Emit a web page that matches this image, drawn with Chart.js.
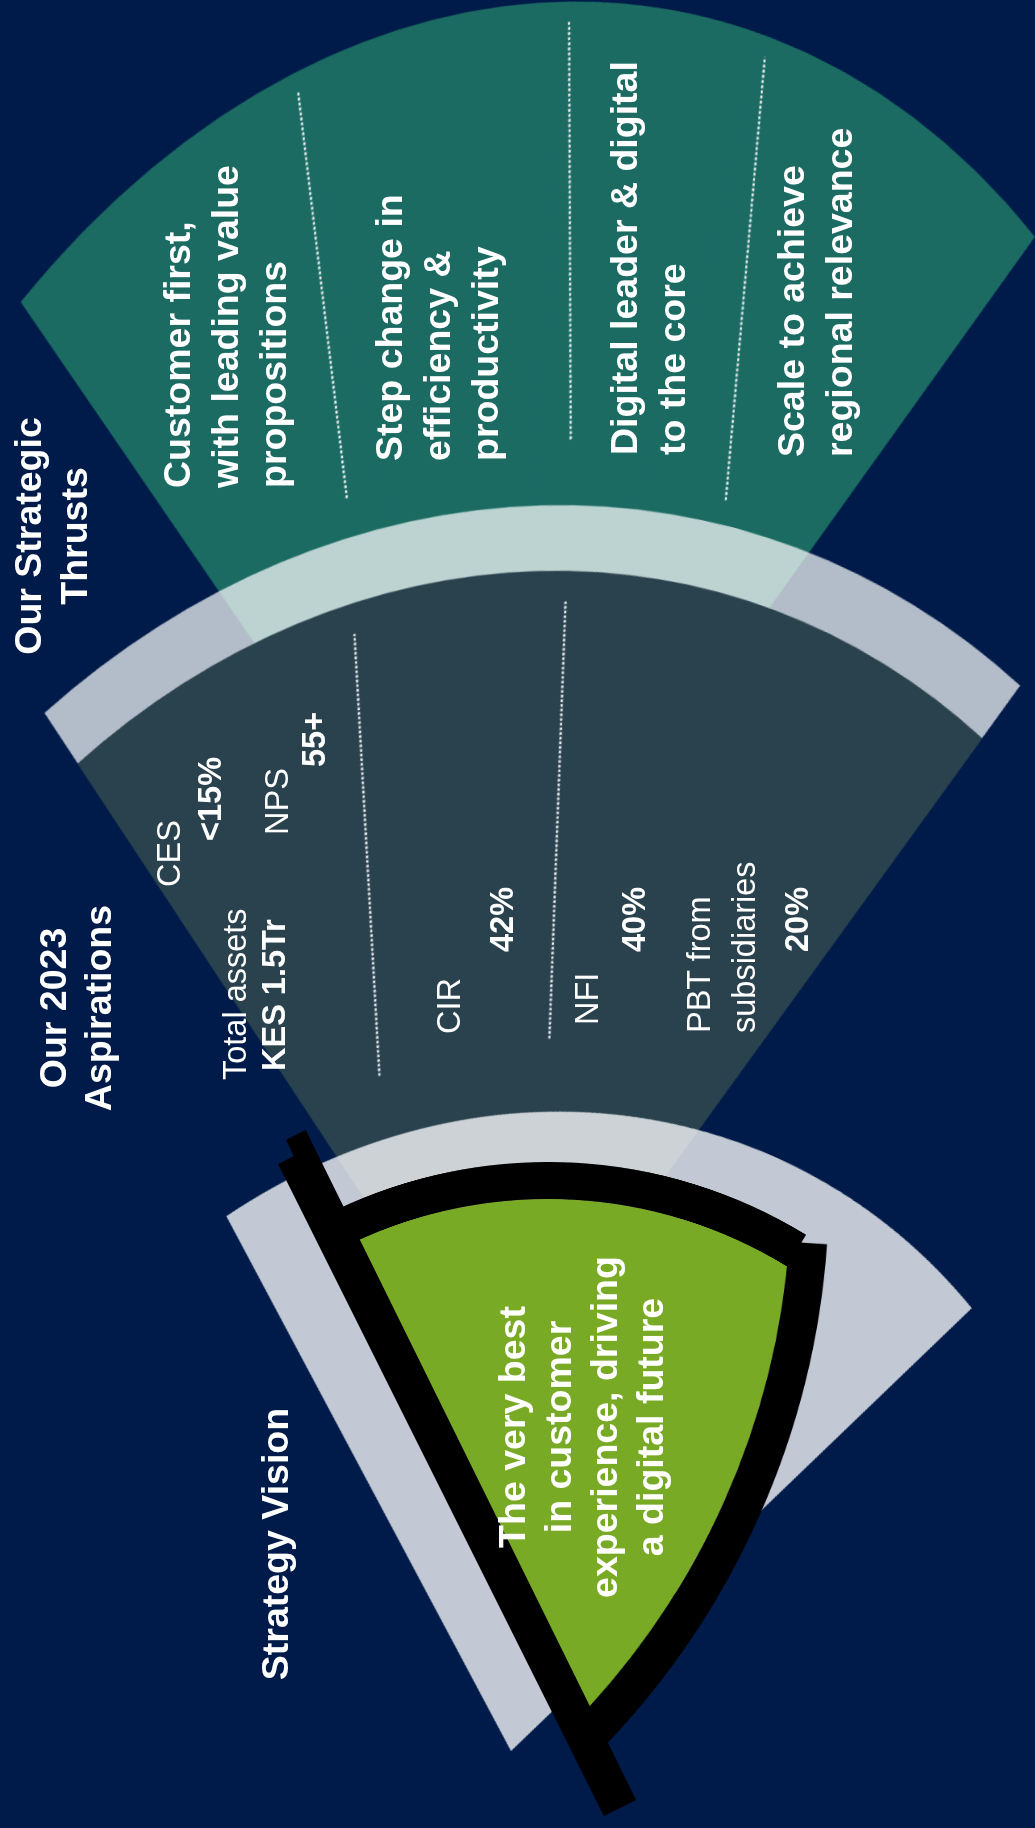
<!DOCTYPE html>
<html>
<head>
<meta charset="utf-8">
<script src="https://cdn.jsdelivr.net/npm/chart.js@4.4.1/dist/chart.umd.min.js"></script>
<style>
html, body { margin: 0; padding: 0; background: #001b49; overflow: hidden; }
#stage { position: relative; width: 1035px; height: 1828px; overflow: hidden; background: #001b49;
  font-family: "Liberation Sans", Arial, sans-serif; color: #fff; }
#stage canvas { position: absolute; }
.txt { position: absolute; transform-origin: 0 0; transform: rotate(-90deg); white-space: pre; }
</style>
</head>
<body>
<div id="stage"></div>
<script>
// ---- data ----
const layerTitles = ["Our Strategic\nThrusts", "Our 2023\nAspirations", "Strategy Vision"];

const thrustLabels = [
  "Customer first,\nwith leading value\npropositions",
  "Step change in\nefficiency &\nproductivity",
  "Digital leader & digital\nto the core",
  "Scale to achieve\nregional relevance"
];
const thrustSpans = [23.9, 21.5, 15.9, 24.8];       // degrees of the outer fan

const aspirationLabels = ["CES", "NPS", "Total assets", "CIR", "NFI", "PBT from\nsubsidiaries"];
const aspirationTargets = ["<15%", "55+", "KES 1.5Tr", "42%", "40%", "20%"];
const aspirationSpans = [23.4, 17.3, 36.0];         // three columns of the middle fan

const visionText = "The very best\nin customer\nexperience, driving\na digital future";
const visionSpan = [57];
const visionBackSpan = [79.4];
const visionEdgeSpan = [40];
const visionFillSpan = [38.5];
const pointerSpan = [0.3];

const NAVY = "#001b49", TEAL = "#1b6b63", SLATE = "#29424e", GREEN = "#78aa25";
const BAND = "rgba(255,255,255,0.70)", HALO = "rgba(255,255,255,0.76)", NONE = "rgba(0,0,0,0)";

// ---- charts ----
const stage = document.getElementById("stage");

// dotted separators between the columns of a fan
const dividerPlugin = {
  id: "dividers",
  afterDatasetsDraw(chart) {
    const ctx = chart.ctx;
    chart.data.datasets.forEach(function (ds, i) {
      if (!ds.dividers) return;
      const dv = ds.dividers;
      const arcs = chart.getDatasetMeta(i).data;
      ctx.save();
      ctx.strokeStyle = "rgba(255,255,255,0.92)";
      ctx.lineWidth = 3;
      ctx.setLineDash([3, 2.2]);
      for (let k = 1; k < ds.data.length - 1; k++) {
        const a = arcs[k];
        const top = a.startAngle;
        const low = top + dv.lean[k - 1] * Math.PI / 180;
        const r0 = a.outerRadius * dv.from;
        const r1 = a.outerRadius * dv.to;
        ctx.beginPath();
        ctx.moveTo(a.x + r0 * Math.cos(low), a.y + r0 * Math.sin(low));
        ctx.lineTo(a.x + r1 * Math.cos(top), a.y + r1 * Math.sin(top));
        ctx.stroke();
      }
      ctx.restore();
    });
  }
};
Chart.register(dividerPlugin);

function rest(values) {
  return 360 - values.reduce((a, b) => a + b, 0);
}

function ring(values, color, extra) {
  const seam = values.length > 1 ? 1 : 0;
  return Object.assign({
    data: values.concat([rest(values)]),
    backgroundColor: values.map(() => color).concat([NONE]),
    borderColor: values.map(() => color).concat([NONE]),
    borderWidth: values.map(() => seam).concat([0]),
    hoverOffset: 0,
    offset: 0
  }, extra || {});
}

// a pie drawn in its own canvas, centred on (cx, cy) and stretched to an ellipse rx/ry tilted by tilt
function fan(cx, cy, rx, ry, tilt, datasets, rotation, extra, size) {
  size = size || 2000;
  const cv = document.createElement("canvas");
  cv.width = size;
  cv.height = size;
  cv.style.width = size + "px";
  cv.style.height = size + "px";
  cv.style.left = (cx - size / 2) + "px";
  cv.style.top = (cy - size / 2) + "px";
  cv.style.transform = "rotate(" + tilt + "deg) scale(" + (rx / (size / 2)) + "," + (ry / (size / 2)) + ")";
  stage.appendChild(cv);
  return new Chart(cv, {
    type: "pie",
    data: { datasets: datasets },
    options: Object.assign({
      responsive: false,
      animation: false,
      devicePixelRatio: 1,
      events: [],
      rotation: rotation,
      circumference: 360,
      plugins: { legend: { display: false }, tooltip: { enabled: false } }
    }, extra || {})
  });
}

// outer fan: strategic thrusts
fan(494, 992, 734, 998, 10.4, [
  ring(thrustSpans, TEAL, { dividers: { from: 0.56, to: 0.98, lean: [-5.1, 4.7, 12.0] } })
], -53.5);

// middle fan: light band + aspirations
fan(500, 1404, 778, 907, 15.0, [
  ring([aspirationSpans.reduce((a, b) => a + b, 0)], BAND, { weight: 7.3 }),
  ring(aspirationSpans, SLATE, { weight: 92.7, dividers: { from: 0.44, to: 0.963, lean: [-10.1, 3.5] } })
], -52.7);

// halo behind the vision
fan(511, 1751, 583, 650, 24.0, [ring(visionBackSpan, HALO)], -55.0);

// curved right edge of the vision
fan(23, 1188, 806, 806, 0, [
  ring(visionEdgeSpan, "#000", { weight: 38 }),
  ring(visionFillSpan, GREEN, { weight: 90 })
], 94, { cutout: "84.1%" });

// vision sector with black rim
fan(548, 1656, 494, 494, 0, [
  ring(visionSpan, "#000", { weight: 37 }),
  ring(visionSpan, GREEN, { weight: 457 })
], -25.5);

// straight left stroke of the vision
fan(620, 1808, 747, 747, 0, [{
  data: pointerSpan.concat([rest(pointerSpan)]),
  backgroundColor: ["#000", NONE],
  borderColor: ["#000", NONE],
  borderWidth: [36, 0],
  borderJoinStyle: "miter",
  hoverOffset: 0,
  offset: 0
}], -26.55, {}, 1494);

// ---- text ----
function addText(text, capTop, start, size, weight, lh, align, width) {
  const d = document.createElement("div");
  d.className = "txt";
  d.textContent = text;
  const capOff = (lh - 1.117 * size) / 2 + 0.189 * size;
  d.style.left = (capTop - capOff) + "px";
  d.style.top = start + "px";
  d.style.fontSize = size + "px";
  d.style.fontWeight = weight;
  d.style.lineHeight = lh + "px";
  d.style.textAlign = align;
  if (width) d.style.width = width + "px";
  stage.appendChild(d);
}

// [cap top x, centre y, line height]
const titlePos = [[14, 536, 46], [40, 1008, 45], [261, 1544, 46]];
layerTitles.forEach(function (t, i) {
  const p = titlePos[i];
  addText(t, p[0], p[1] + 250, 37.5, 700, p[2], "center", 500);
});

// [cap top x, start y]
const thrustPos = [[163, 488], [375, 461], [610, 455], [777, 457]];
thrustLabels.forEach(function (t, i) {
  addText(t, thrustPos[i][0], thrustPos[i][1], 37.5, 700, 48, "left");
});

const labelPos = [[157, 887], [265, 835], [223, 1080], [437, 1034], [575, 1025], [687, 1033]];
const targetPos = [[198, 841], [302, 767], [262, 1071], [490, 952], [622, 952], [785, 952]];
aspirationLabels.forEach(function (t, i) {
  addText(t, labelPos[i][0], labelPos[i][1], 32.5, 400, 45, "left");
  addText(aspirationTargets[i], targetPos[i][0], targetPos[i][1], 32.5, 700, 45, "left");
});

addText(visionText, 498, 1427 + 250, 37.5, 700, 46, "center", 500);
</script>
</body>
</html>
